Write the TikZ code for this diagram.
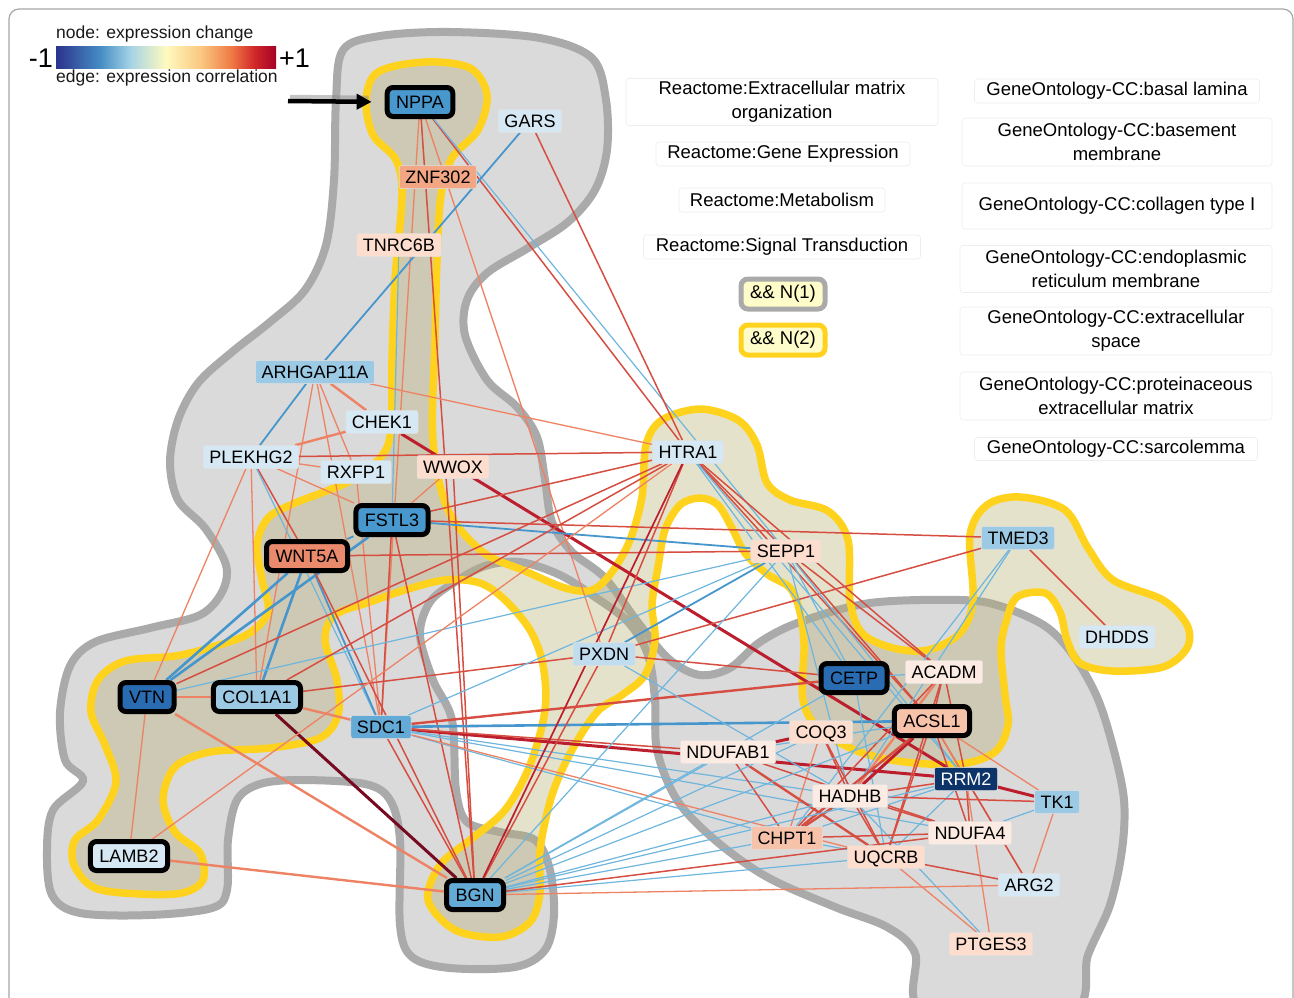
\documentclass[tikz,border=0pt]{standalone}
\usepackage{fontspec}
\setmainfont{Liberation Sans}
\usetikzlibrary{arrows.meta}

% region colours
\definecolor{grayLine}{RGB}{170,170,170}
\definecolor{grayFill}{RGB}{218,218,218}
\definecolor{goldLine}{RGB}{255,210,30}
\definecolor{beigeTint}{RGB}{181,172,110}
\definecolor{setFill}{RGB}{254,252,200}
% edge colours
\definecolor{eSalmon}{RGB}{238,130,100}
\definecolor{eRed}{RGB}{214,78,66}
\definecolor{eDark}{RGB}{188,30,46}
\definecolor{eDeep}{RGB}{118,10,32}
\definecolor{eBlue}{RGB}{70,150,205}
\definecolor{eSky}{RGB}{110,182,222}
% node colours
\definecolor{nNavy}{RGB}{12,52,105}
\definecolor{nDeep}{RGB}{42,108,178}
\definecolor{nMid}{RGB}{72,152,206}
\definecolor{nMidB}{RGB}{100,170,214}
\definecolor{nSky}{RGB}{156,202,228}
\definecolor{nIce}{RGB}{192,221,239}
\definecolor{nPale}{RGB}{214,232,243}
\definecolor{nSalmon}{RGB}{234,138,108}
\definecolor{nCoral}{RGB}{242,166,132}
\definecolor{nPeach}{RGB}{247,194,170}
\definecolor{nCream}{RGB}{252,221,206}
\definecolor{nBlush}{RGB}{252,235,226}

\newcommand\genefont{\fontsize{18}{20}\selectfont}
\newcommand\lgfont{\fontsize{18.5}{24}\selectfont}
\newcommand\keyfont{\fontsize{17.5}{20}\selectfont}

\pgfdeclarelayer{regions}
\pgfdeclarelayer{edges}
\pgfsetlayers{regions,edges,main}

\pgfdeclarehorizontalshading{exprbar}{100bp}{rgb(0bp)=(0.17,0.2,0.55); rgb(25bp)=(0.17,0.2,0.55); rgb(35bp)=(0.27,0.55,0.77); rgb(42bp)=(0.65,0.83,0.9); rgb(50bp)=(1,0.98,0.75); rgb(58bp)=(0.98,0.78,0.5); rgb(65bp)=(0.94,0.47,0.27); rgb(70bp)=(0.82,0.16,0.16); rgb(75bp)=(0.65,0,0.15); rgb(100bp)=(0.65,0,0.15)}

\tikzset{
  gn/.style={rectangle, rounded corners=2pt, draw=black!12, line width=0.5pt,
    minimum height=23pt, inner xsep=6pt, inner ysep=0pt,
    text height=13pt, text depth=0pt, font=\genefont},
  hub/.style={draw=black, line width=5pt, rounded corners=6pt,
    minimum height=29pt, inner xsep=9pt},
  lgbox/.style={rectangle, rounded corners=3pt, draw=black!7, line width=0.6pt,
    fill=white, align=center, inner sep=0pt, font=\lgfont},
  setbox/.style={rectangle, rounded corners=7pt, line width=5pt, fill=setFill,
    minimum width=84pt, minimum height=30pt, inner sep=0pt, font=\lgfont},
  ew/.style={draw=eSalmon, line width=1.3pt},
  eW/.style={draw=eSalmon, line width=2.4pt},
  er/.style={draw=eRed, line width=1.5pt},
  eR/.style={draw=eRed, line width=2.4pt},
  ed/.style={draw=eDark, line width=1.7pt},
  eD/.style={draw=eDark, line width=3pt},
  eX/.style={draw=eDeep, line width=3pt},
  eb/.style={draw=eSky, line width=1.2pt},
  em/.style={draw=eBlue, line width=1.8pt},
  eB/.style={draw=eBlue, line width=2.6pt}
}

\begin{document}
\begin{tikzpicture}[x=1pt,y=1pt,yscale=-1,xscale=1]
\useasboundingbox (0,0) rectangle (1294,997);

% frame
\draw[black!35, line width=1.2pt, rounded corners=10pt] (9,1005) -- (9,9) -- (1293,9) -- (1293,1005);

\begin{pgfonlayer}{regions}
% N(1) region
\draw[line width=8pt, draw=grayLine, fill=grayFill] plot[smooth cycle, tension=0.55] coordinates {
 (343,50) (380,36) (450,32) (540,38) (592,58) (606,100) (607,150) (595,190) (568,222)
 (528,248) (487,273) (467,300) (465,335) (487,380) (517,407) (537,437) (545,480)
 (552,522) (572,552) (605,578) (640,625) (670,660) (700,675) (730,668) (760,642)
 (800,622) (870,603) (960,600) (1000,606) (1045,626) (1073,655) (1097,697)
 (1113,747) (1124,800) (1122,850) (1110,905) (1088,955) (1070,1012) (925,1012)
 (915,953) (887,927) (835,907) (767,877) (715,840) (677,800) (657,750) (655,700)
 (648,655) (628,622) (595,597) (560,575) (520,562) (485,566) (455,582) (430,602)
 (420,635) (433,680) (452,720) (456,790) (467,822) (500,832) (535,840) (550,870)
 (554,915) (545,950) (515,967) (450,968) (412,957) (400,925) (400,840) (390,800)
 (365,784) (300,780) (260,784) (237,800) (228,840) (227,890) (212,908) (150,915)
 (80,913) (52,895) (47,850) (53,810) (83,781) (65,760) (60,713) (70,666) (95,642)
 (150,628) (200,615) (222,592) (226,565) (205,528) (178,500) (170,462) (178,420)
 (198,383) (232,352) (270,322) (305,290) (326,245) (334,180) (336,100)};
% N(2) region
\fill[beigeTint, opacity=0.35] plot[smooth cycle, tension=0.55] coordinates {
 (425,62) (470,68) (487,95) (478,130) (452,158) (441,195) (437,260) (435,340)
 (433,440) (448,510) (483,552) (525,571) (565,588) (592,590) (612,572) (630,540)
 (642,497) (646,445) (662,420) (700,409) (738,420) (757,445) (767,483) (790,500)
 (828,511) (848,540) (850,600) (862,633) (893,648) (928,650) (960,633) (973,600)
 (970,535) (987,505) (1020,497) (1065,510) (1088,548) (1113,580) (1163,600)
 (1187,625) (1187,648) (1163,667) (1113,671) (1080,663) (1067,640) (1060,612)
 (1045,593) (1017,597) (1006,622) (1001,650) (1005,695) (1008,725) (995,752)
 (960,764) (905,762) (860,752) (820,730) (803,700) (804,645) (800,612) (790,588)
 (767,574) (745,553) (733,530) (718,505) (700,498) (680,505) (665,530) (658,567)
 (652,605) (655,640) (645,675) (622,695) (597,712) (572,750) (552,795) (540,850)
 (540,893) (530,922) (500,937) (455,930) (428,900) (440,865) (470,840) (505,810)
 (530,765) (545,710) (543,665) (530,630) (505,600) (480,583) (445,580) (405,590)
 (370,602) (335,615) (325,640) (337,680) (338,715) (320,738) (270,748) (210,752)
 (175,767) (163,800) (175,832) (200,853) (203,880) (182,893) (140,894) (95,888)
 (74,865) (75,840) (98,820) (116,782) (105,745) (91,712) (98,680) (125,661)
 (175,656) (212,647) (248,634) (268,612) (262,580) (257,545) (268,518) (295,503)
 (348,482) (380,458) (391,430) (392,360) (395,280) (402,195) (396,160) (373,135)
 (366,100) (378,72)};
\draw[line width=7.5pt, draw=goldLine] plot[smooth cycle, tension=0.55] coordinates {
 (425,62) (470,68) (487,95) (478,130) (452,158) (441,195) (437,260) (435,340)
 (433,440) (448,510) (483,552) (525,571) (565,588) (592,590) (612,572) (630,540)
 (642,497) (646,445) (662,420) (700,409) (738,420) (757,445) (767,483) (790,500)
 (828,511) (848,540) (850,600) (862,633) (893,648) (928,650) (960,633) (973,600)
 (970,535) (987,505) (1020,497) (1065,510) (1088,548) (1113,580) (1163,600)
 (1187,625) (1187,648) (1163,667) (1113,671) (1080,663) (1067,640) (1060,612)
 (1045,593) (1017,597) (1006,622) (1001,650) (1005,695) (1008,725) (995,752)
 (960,764) (905,762) (860,752) (820,730) (803,700) (804,645) (800,612) (790,588)
 (767,574) (745,553) (733,530) (718,505) (700,498) (680,505) (665,530) (658,567)
 (652,605) (655,640) (645,675) (622,695) (597,712) (572,750) (552,795) (540,850)
 (540,893) (530,922) (500,937) (455,930) (428,900) (440,865) (470,840) (505,810)
 (530,765) (545,710) (543,665) (530,630) (505,600) (480,583) (445,580) (405,590)
 (370,602) (335,615) (325,640) (337,680) (338,715) (320,738) (270,748) (210,752)
 (175,767) (163,800) (175,832) (200,853) (203,880) (182,893) (140,894) (95,888)
 (74,865) (75,840) (98,820) (116,782) (105,745) (91,712) (98,680) (125,661)
 (175,656) (212,647) (248,634) (268,612) (262,580) (257,545) (268,518) (295,503)
 (348,482) (380,458) (391,430) (392,360) (395,280) (402,195) (396,160) (373,135)
 (366,100) (378,72)};
\end{pgfonlayer}

% Text Node
\node[gn, hub, fill=nMid] (nppa) at (420,102) {NPPA};
\node[gn, fill=nPale] (gars) at (530,121) {GARS};
\node[gn, fill=nCoral] (znf) at (438,177) {ZNF302};
\node[gn, fill=nCream] (tnrc) at (399,245) {TNRC6B};
\node[gn, fill=nSky] (arhgap) at (315,372) {ARHGAP11A};
\node[gn, fill=nPale] (chek) at (382,422) {CHEK1};
\node[gn, fill=nPale] (plekhg) at (251,457) {PLEKHG2};
\node[gn, fill=nPale] (rxfp) at (356,472) {RXFP1};
\node[gn, fill=nCream] (wwox) at (453,467) {WWOX};
\node[gn, hub, fill=nMid] (fstl) at (392,520) {FSTL3};
\node[gn, hub, fill=nSalmon] (wnt) at (307,556) {WNT5A};
\node[gn, hub, fill=nDeep] (vtn) at (147,697) {VTN};
\node[gn, hub, fill=nSky] (colA) at (257,697) {COL1A1};
\node[gn, hub, fill=nPale] (lamb) at (129,856) {LAMB2};
\node[gn, fill=nMidB] (sdc) at (381,727) {SDC1};
\node[gn, hub, fill=nMidB] (bgn) at (475,895) {BGN};
\node[gn, fill=nIce] (pxdn) at (604,654) {PXDN};
\node[gn, fill=nPale] (htra) at (688,452) {HTRA1};
\node[gn, fill=nCream] (sepp) at (786,551) {SEPP1};
\node[gn, fill=nSky] (tmed) at (1018,538) {TMED3};
\node[gn, fill=nPale] (dhdds) at (1117,637) {DHDDS};
\node[gn, hub, fill=nDeep] (cetp) at (854,678) {CETP};
\node[gn, fill=nBlush] (acadm) at (944,672) {ACADM};
\node[gn, hub, fill=nPeach] (acsl) at (932,721) {ACSL1};
\node[gn, fill=nCream] (coq) at (821,732) {COQ3};
\node[gn, fill=nBlush] (ndufab) at (728,752) {NDUFAB1};
\node[gn, fill=nNavy, text=white] (rrm) at (966,779) {RRM2};
\node[gn, fill=nBlush] (hadhb) at (850,796) {HADHB};
\node[gn, fill=nSky] (tk) at (1057,802) {TK1};
\node[gn, fill=nPeach] (chpt) at (787,838) {CHPT1};
\node[gn, fill=nBlush] (ndufa) at (970,833) {NDUFA4};
\node[gn, fill=nCream] (uqcrb) at (886,857) {UQCRB};
\node[gn, fill=nPale] (arg) at (1029,885) {ARG2};
\node[gn, fill=nCream] (ptges) at (991,944) {PTGES3};

\begin{pgfonlayer}{edges}
%Straight Lines
\draw[ew] (nppa) -- (sdc);
\draw[er] (nppa) -- (bgn);
\draw[ew] (nppa) -- (pxdn);
\draw[er] (nppa) -- (htra);
\draw[eb] (nppa) -- (sepp);
\draw[em] (gars) -- (arhgap);
\draw[er] (gars) -- (htra);
\draw[eb] (tnrc) -- (fstl);
\draw[em] (arhgap) -- (plekhg);
\draw[eW] (arhgap) -- (chek);
\draw[ew] (arhgap) -- (rxfp);
\draw[ew] (arhgap) -- (colA);
\draw[ew] (arhgap) -- (htra);
\draw[ew] (arhgap) -- (sdc);
\draw[eW] (chek) -- (plekhg);
\draw[eD] (chek) -- (rrm);
\draw[er] (plekhg) -- (htra);
\draw[ew] (plekhg) -- (rxfp);
\draw[ew] (plekhg) -- (fstl);
\draw[er] (plekhg) -- (wnt);
\draw[eb] (plekhg) -- (sdc);
\draw[ew] (plekhg) -- (vtn);
\draw[ew] (plekhg) -- (colA);
\draw[ew] (rxfp) -- (sdc);
\draw[ew] (wwox) -- (fstl);
\draw[er] (wwox) -- (bgn);
\draw[er] (fstl) -- (htra);
\draw[er] (fstl) -- (tmed);
\draw[em] (fstl) -- (sepp);
\draw[em] (fstl) -- (wnt);
\draw[eB] (fstl) -- (vtn);
\draw[er] (fstl) -- (sdc);
\draw[er] (fstl) -- (bgn);
\draw[er] (wnt) -- (sepp);
\draw[eB] (wnt) -- (vtn);
\draw[eB] (wnt) -- (colA);
\draw[em] (wnt) -- (sdc);
\draw[er] (wnt) -- (bgn);
\draw[eW] (vtn) -- (colA);
\draw[ew] (vtn) -- (lamb);
\draw[eW] (vtn) -- (bgn);
\draw[er] (vtn) -- (htra);
\draw[eb] (vtn) -- (sepp);
\draw[eX] (colA) -- (bgn);
\draw[eW] (colA) -- (sdc);
\draw[er] (colA) -- (pxdn);
\draw[er] (colA) -- (htra);
\draw[eW] (lamb) -- (bgn);
\draw[ew] (lamb) -- (htra);
%Straight Lines
\draw[er] (sdc) -- (bgn);
\draw[eR] (sdc) -- (cetp);
\draw[eB] (sdc) -- (acsl);
\draw[eD] (sdc) -- (rrm);
\draw[er] (sdc) -- (ndufab);
\draw[eb] (sdc) -- (hadhb);
\draw[eb] (sdc) -- (chpt);
\draw[ew] (sdc) -- (uqcrb);
\draw[eb] (sdc) -- (sepp);
\draw[eb] (sdc) -- (ndufa);
\draw[er] (pxdn) -- (tmed);
\draw[em] (pxdn) -- (sepp);
\draw[er] (pxdn) -- (cetp);
\draw[eb] (pxdn) -- (hadhb);
\draw[er] (pxdn) -- (htra);
\draw[er] (pxdn) -- (bgn);
\draw[er] (htra) -- (sepp);
\draw[eb] (htra) -- (cetp);
\draw[er] (htra) -- (acadm);
\draw[er] (htra) -- (acsl);
\draw[eb] (htra) -- (rrm);
\draw[ed] (htra) -- (bgn);
\draw[er] (sepp) -- (acadm);
\draw[er] (sepp) -- (acsl);
\draw[eb] (sepp) -- (rrm);
\draw[eb] (sepp) -- (hadhb);
\draw[eb] (sepp) -- (bgn);
\draw[eb] (sepp) -- (cetp);
\draw[er] (tmed) -- (dhdds);
\draw[eb] (tmed) -- (hadhb);
\draw[eb] (tmed) -- (chpt);
%Straight Lines
\draw[eb] (cetp) -- (acadm);
\draw[eb] (cetp) -- (uqcrb);
\draw[er] (acadm) -- (acsl);
\draw[eW] (acadm) -- (hadhb);
\draw[er] (acadm) -- (chpt);
\draw[er] (acadm) -- (uqcrb);
\draw[er] (acadm) -- (rrm);
\draw[eD] (acsl) -- (hadhb);
\draw[eR] (acsl) -- (chpt);
\draw[er] (acsl) -- (rrm);
\draw[er] (acsl) -- (uqcrb);
\draw[ew] (acsl) -- (tk);
\draw[ew] (acsl) -- (arg);
\draw[er] (acsl) -- (ndufa);
\draw[eb] (acsl) -- (ndufab);
\draw[eD] (coq) -- (ndufab);
\draw[ew] (coq) -- (chpt);
\draw[er] (coq) -- (uqcrb);
\draw[er] (coq) -- (hadhb);
\draw[eR] (ndufab) -- (uqcrb);
\draw[er] (ndufab) -- (chpt);
\draw[er] (ndufab) -- (ndufa);
\draw[eD] (rrm) -- (tk);
\draw[er] (rrm) -- (ndufa);
\draw[eb] (rrm) -- (uqcrb);
\draw[er] (rrm) -- (arg);
\draw[ew] (rrm) -- (ptges);
\draw[er] (rrm) -- (hadhb);
\draw[eb] (rrm) -- (chpt);
\draw[eR] (hadhb) -- (chpt);
\draw[er] (hadhb) -- (ndufa);
\draw[er] (hadhb) -- (tk);
\draw[eb] (hadhb) -- (ptges);
\draw[er] (hadhb) -- (uqcrb);
\draw[ew] (tk) -- (arg);
\draw[eb] (tk) -- (ndufa);
\draw[eb] (chpt) -- (uqcrb);
\draw[er] (chpt) -- (ndufa);
\draw[er] (uqcrb) -- (arg);
\draw[ew] (uqcrb) -- (ptges);
%Straight Lines
\draw[eb] (bgn) -- (coq);
\draw[eb] (bgn) -- (ndufab);
\draw[eb] (bgn) -- (hadhb);
\draw[eb] (bgn) -- (chpt);
\draw[eb] (bgn) -- (uqcrb);
\draw[ew] (bgn) -- (arg);
\draw[eb] (bgn) -- (acsl);
\draw[eb] (bgn) -- (cetp);
\draw[eb] (bgn) -- (rrm);
\draw[er] (bgn) -- (ndufa);
\end{pgfonlayer}

% pointer to NPPA
\coordinate (arrTail) at (288,101);
\draw[black!45, opacity=0.5, line width=4.5pt, shorten >=16pt] ([xshift=2pt,yshift=-4pt]arrTail) -- ([yshift=-4pt]nppa.west);
\draw[line width=4.5pt, -{Triangle[length=15pt,width=15pt]}, shorten >=13pt] (arrTail) -- (nppa.west);

% colour key
\shade[shading=exprbar] (56,46) rectangle (276,68);
\node[anchor=west, inner sep=0pt, font=\keyfont, text=black!90] (keyNode) at (56,34) {node: expression change};
\node[anchor=west, inner sep=0pt, font=\keyfont, text=black!90] (keyEdge) at (56,78) {edge: expression correlation};
\node[anchor=east, inner sep=0pt, font=\fontsize{27}{30}\selectfont] (keyLow) at (53,58) {-1};
\node[anchor=west, inner sep=0pt, font=\fontsize{27}{30}\selectfont] (keyHigh) at (279,58) {+1};

% Text Node
\node[lgbox, minimum width=312pt, minimum height=47pt] (reExt) at (782,102) {Reactome:Extracellular matrix\\organization};
\node[lgbox, minimum width=254pt, minimum height=24pt] (reGene) at (783,154) {Reactome:Gene Expression};
\node[lgbox, minimum width=206pt, minimum height=24pt] (reMeta) at (782,200) {Reactome:Metabolism};
\node[lgbox, minimum width=277pt, minimum height=24pt] (reSig) at (782,247) {Reactome:Signal Transduction};
\node[setbox, draw=grayLine] (setOne) at (783,294) {\&\& N(1)};
\node[setbox, draw=goldLine] (setTwo) at (783,340) {\&\& N(2)};
\node[lgbox, minimum width=285pt, minimum height=24pt] (goBasal) at (1117,91) {GeneOntology-CC:basal lamina};
\node[lgbox, minimum width=310pt, minimum height=48pt] (goBase) at (1117,142) {GeneOntology-CC:basement\\membrane};
\node[lgbox, minimum width=310pt, minimum height=46pt] (goColl) at (1117,206) {GeneOntology-CC:collagen type I};
\node[lgbox, minimum width=312pt, minimum height=47pt] (goER) at (1116,269) {GeneOntology-CC:endoplasmic\\reticulum membrane};
\node[lgbox, minimum width=312pt, minimum height=48pt] (goExtra) at (1116,331) {GeneOntology-CC:extracellular\\space};
\node[lgbox, minimum width=312pt, minimum height=48pt] (goProt) at (1116,396) {GeneOntology-CC:proteinaceous\\extracellular matrix};
\node[lgbox, minimum width=283pt, minimum height=23pt] (goSarc) at (1116,449) {GeneOntology-CC:sarcolemma};

\end{tikzpicture}
\end{document}
